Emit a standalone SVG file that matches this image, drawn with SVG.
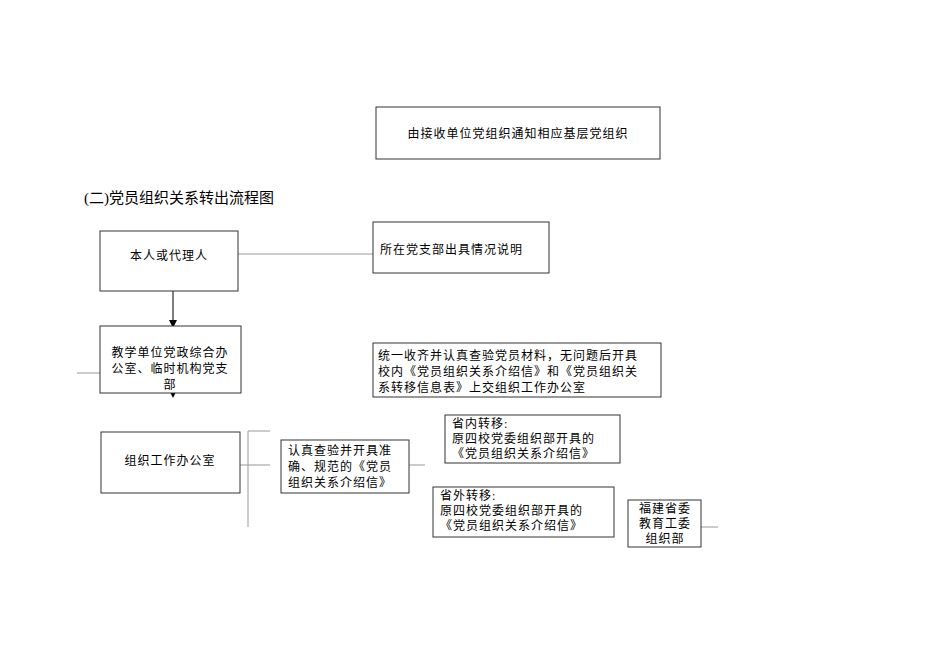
<svg xmlns="http://www.w3.org/2000/svg" width="950" height="672" viewBox="0 0 950 672">
<style>
.b{fill:#fff;stroke:#333;stroke-width:1}
.t{font-family:"Liberation Serif","Noto Sans CJK SC",serif;font-size:12px;fill:#000;letter-spacing:1px}
.c{stroke:#999;stroke-width:1;fill:none}
.a{stroke:#000;stroke-width:1;fill:none}
</style>
<defs><marker id="ar" markerWidth="8" markerHeight="8" refX="4" refY="4" orient="auto" markerUnits="userSpaceOnUse"><path d="M0,0 L8,4 L0,8 z" fill="#000"/></marker></defs>
<rect width="950" height="672" fill="#fff"/>
<text class="t" x="84" y="203" style="font-size:15px;letter-spacing:0">(二)党员组织关系转出流程图</text>
<g id="connectors">
<line class="c" x1="234" y1="254" x2="373" y2="254"/>
<line class="a" x1="173" y1="291" x2="173" y2="324" marker-end="url(#ar)"/>
<line class="c" x1="77" y1="373" x2="100" y2="373"/>
<line class="a" x1="173" y1="388" x2="173" y2="394" marker-end="url(#ar)"/>
<polyline class="c" points="270,431 248,431 248,527"/>
<line class="c" x1="240" y1="465" x2="270" y2="465"/>
<line class="c" x1="409" y1="465" x2="425" y2="465"/>
<line class="c" x1="701" y1="527" x2="718" y2="527"/>
</g>
<g id="n0"><rect class="b" x="376" y="107" width="284" height="52"/><text class="t" x="518" y="138" text-anchor="middle">由接收单位党组织通知相应基层党组织</text></g>
<g id="n1"><rect class="b" x="100" y="231" width="138" height="60"/><text class="t" x="169" y="260" text-anchor="middle">本人或代理人</text></g>
<g id="n2"><rect class="b" x="373" y="222" width="176" height="51"/><text class="t" x="380" y="254">所在党支部出具情况说明</text></g>
<g id="n3"><rect class="b" x="100" y="326" width="141" height="67"/><text class="t" x="170" y="357" text-anchor="middle">教学单位党政综合办</text><text class="t" x="170" y="373" text-anchor="middle">公室、临时机构党支</text><text class="t" x="170" y="389" text-anchor="middle">部</text></g>
<g id="n4"><rect class="b" x="373" y="343" width="288" height="54"/><text class="t" x="378" y="360">统一收齐并认真查验党员材料，无问题后开具</text><text class="t" x="378" y="376">校内《党员组织关系介绍信》和《党员组织关</text><text class="t" x="378" y="392">系转移信息表》上交组织工作办公室</text></g>
<g id="n5"><rect class="b" x="101" y="432" width="139" height="61"/><text class="t" x="170" y="465" text-anchor="middle">组织工作办公室</text></g>
<g id="n6"><rect class="b" x="281" y="440" width="128" height="53"/><text class="t" x="288" y="455">认真查验并开具准</text><text class="t" x="288" y="471">确、规范的《党员</text><text class="t" x="288" y="487">组织关系介绍信》</text></g>
<g id="n7"><rect class="b" x="445" y="415" width="175" height="48"/><text class="t" x="452" y="428">省内转移:</text><text class="t" x="452" y="443">原四校党委组织部开具的</text><text class="t" x="452" y="458">《党员组织关系介绍信》</text></g>
<g id="n8"><rect class="b" x="433" y="487" width="181" height="50"/><text class="t" x="440" y="500">省外转移:</text><text class="t" x="440" y="515">原四校党委组织部开具的</text><text class="t" x="440" y="530">《党员组织关系介绍信》</text></g>
<g id="n9"><rect class="b" x="628" y="500" width="73" height="47"/><text class="t" x="665" y="513" text-anchor="middle">福建省委</text><text class="t" x="665" y="528" text-anchor="middle">教育工委</text><text class="t" x="665" y="543" text-anchor="middle">组织部</text></g>
</svg>
